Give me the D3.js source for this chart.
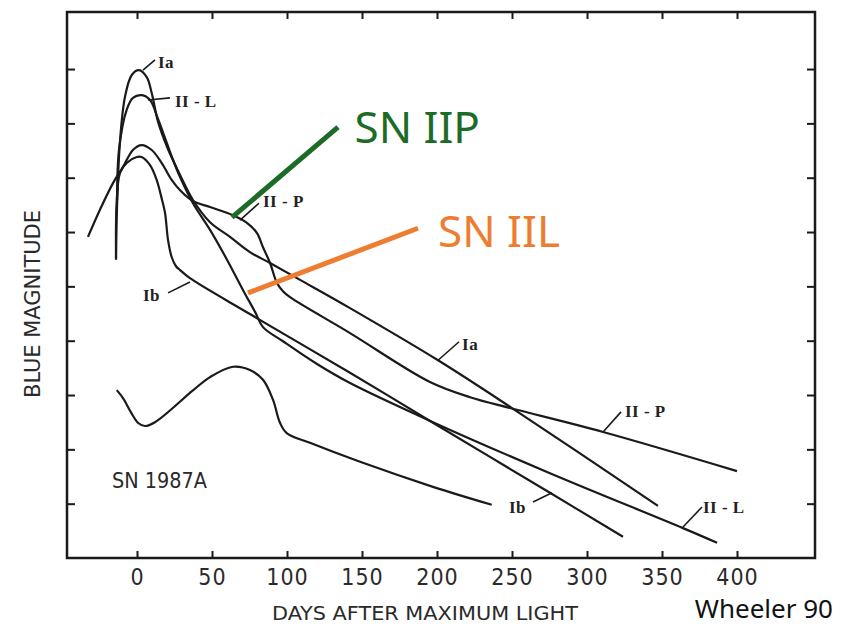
<!DOCTYPE html>
<html>
<head>
<meta charset="utf-8">
<script src="https://cdn.jsdelivr.net/npm/d3@7"></script>
<style>
  body { margin: 0; background: #ffffff; }
</style>
</head>
<body>
<div id="chart"></div>
<script>
const typeIa = [[-14, 4.51], [-13.7, 3.96], [-13.3, 3.52], [-11.3, 2.31], [-8, 1.51], [-3.5, 1.11],
  [1.3, 1.02], [6.5, 1.15], [9.8, 1.44], [14, 1.97], [20, 2.43], [28.7, 2.95], [37.3, 3.41],
  [48.7, 3.82], [62, 4.09], [75.3, 4.37], [88.7, 4.57], [108.7, 4.88], [142, 5.40],
  [200.7, 6.36], [250, 7.24], [347.3, 9.04]];

const typeIIL = [[-13.3, 3.41], [-12, 2.49], [-6.9, 1.75], [-2.7, 1.53], [3.1, 1.48], [8.7, 1.57],
  [14, 1.92], [18.7, 2.27], [23.3, 2.62], [28.7, 2.99], [37.3, 3.47], [48.7, 3.96], [60, 4.51],
  [70.7, 5.07], [78.7, 5.47], [84, 5.75], [97.3, 6.01], [120, 6.43], [142, 6.78],
  [197.3, 7.50], [275.3, 8.44], [364, 9.45], [386.7, 9.72]];

const typeIIP = [[-32.7, 4.09], [-24.7, 3.59], [-16, 3.10], [-9.3, 2.80], [-2.7, 2.49], [3.1, 2.40],
  [9.8, 2.49], [16.5, 2.73], [23.1, 3.04], [28.7, 3.23], [37.3, 3.43], [48.7, 3.54], [64, 3.69],
  [73.3, 3.83], [80, 4.02], [84, 4.28], [88.7, 4.57], [93.3, 4.94], [97.3, 5.09], [102, 5.20],
  [142, 5.86], [195.3, 6.76], [222, 7.04], [248.7, 7.24], [310.7, 7.68], [400, 8.40]];

const typeIb = [[-14, 4.48], [-13.5, 3.41], [-11.3, 2.91], [-6.9, 2.73], [-0.2, 2.62], [3.1, 2.62],
  [8.7, 2.77], [13.1, 3.04], [16.7, 3.41], [18.7, 3.65], [20.7, 4.15], [23.1, 4.46], [26, 4.63],
  [28.7, 4.70], [35.3, 4.85], [75.3, 5.51], [142, 6.59], [197.3, 7.51], [275.3, 8.80], [324, 9.61]];

const sn1987A = [[-13.5, 6.91], [-9, 7.07], [-4, 7.32], [1, 7.52], [5.3, 7.57], [12, 7.50],
  [37.5, 6.91], [48.7, 6.67], [64, 6.48], [75.3, 6.54], [84, 6.72], [90.7, 7.09], [95.3, 7.51],
  [99.8, 7.70], [115.3, 7.88], [148.7, 8.23], [197.3, 8.69], [236.5, 9.02]];

const dayTicks = [0, 50, 100, 150, 200, 250, 300, 350, 400];
const magTicks = [1, 2, 3, 4, 5, 6, 7, 8, 9];

// curve labels with their little pointer lines
const curveLabels = [
  { text: 'Ia', day: 14, mag: 0.98, from: [4, 1.02], to: [12, 0.83] },
  { text: 'II - L', day: 25.3, mag: 1.70, from: [7.3, 1.57], to: [22, 1.53] },
  { text: 'II - P', day: 84, mag: 3.54, from: [68.7, 3.78], to: [81.3, 3.47] },
  { text: 'Ib', day: 4, mag: 5.27, from: [20.7, 5.12], to: [35.3, 4.92] },
  { text: 'Ia', day: 216.7, mag: 6.17, from: [200.7, 6.36], to: [214.7, 6.02] },
  { text: 'II - P', day: 325.3, mag: 7.40, from: [310.7, 7.68], to: [322.7, 7.31] },
  { text: 'Ib', day: 248, mag: 9.17, from: [264, 8.97], to: [276.7, 8.80] },
  { text: 'II - L', day: 377.3, mag: 9.17, from: [364, 9.43], to: [376.7, 9.06] }
];

// coloured call-outs added on top of the figure
const callouts = [
  { text: 'SN IIP', color: '#1c6b26', from: [63.3, 3.73], to: [134, 2.07], tx: 145, tm: 2.37 },
  { text: 'SN IIL', color: '#ed7d31', from: [74, 5.12], to: [187.3, 3.93], tx: 200.7, tm: 4.28 }
];

const width = 841;
const height = 627;
const margin = { top: 12, right: 26, bottom: 69, left: 67 };

const svg = d3.select('#chart')
  .append('svg')
  .attr('width', width)
  .attr('height', height);

const x = d3.scaleLinear()
  .domain([-46.67, 452])
  .range([margin.left, width - margin.right]);

const y = d3.scaleLinear()
  .domain([-0.05, 10])
  .range([margin.top, height - margin.bottom]);

const ink = '#1a1a1a';
const letterFont = "'DejaVu Sans Condensed', 'Liberation Sans Narrow', 'DejaVu Sans', sans-serif";

// ticks on all four sides, pointing inward
function styleAxis(g) {
  g.select('.domain').remove();
  g.selectAll('.tick line').attr('stroke', ink).attr('stroke-width', 2);
}

svg.append('g')
  .attr('transform', 'translate(0,' + (height - margin.bottom) + ')')
  .call(d3.axisBottom(x).tickValues(dayTicks).tickSize(-7).tickPadding(11))
  .call(styleAxis)
  .call(g => g.selectAll('.tick text')
    .attr('fill', '#2a2a2a')
    .style('font-family', letterFont)
    .style('font-size', '23px')
    .style('letter-spacing', '1px'));

svg.append('g')
  .attr('transform', 'translate(0,' + margin.top + ')')
  .call(d3.axisTop(x).tickValues(dayTicks).tickSize(-7).tickFormat(''))
  .call(styleAxis);

svg.append('g')
  .attr('transform', 'translate(' + margin.left + ',0)')
  .call(d3.axisLeft(y).tickValues(magTicks).tickSize(-8).tickFormat(''))
  .call(styleAxis);

svg.append('g')
  .attr('transform', 'translate(' + (width - margin.right) + ',0)')
  .call(d3.axisRight(y).tickValues(magTicks).tickSize(-8).tickFormat(''))
  .call(styleAxis);

// frame
svg.append('rect')
  .attr('x', margin.left)
  .attr('y', margin.top)
  .attr('width', width - margin.left - margin.right)
  .attr('height', height - margin.top - margin.bottom)
  .attr('fill', 'none')
  .attr('stroke', ink)
  .attr('stroke-width', 2.5);

// curves
const line = d3.line()
  .x(d => x(d[0]))
  .y(d => y(d[1]))
  .curve(d3.curveCatmullRom.alpha(0.5));

[typeIa, typeIIL, typeIIP, typeIb, sn1987A].forEach(series => {
  svg.append('path')
    .attr('d', line(series))
    .attr('fill', 'none')
    .attr('stroke', ink)
    .attr('stroke-width', 2.2)
    .attr('stroke-linejoin', 'round');
});

// curve labels
curveLabels.forEach(l => {
  svg.append('line')
    .attr('x1', x(l.from[0])).attr('y1', y(l.from[1]))
    .attr('x2', x(l.to[0])).attr('y2', y(l.to[1]))
    .attr('stroke', ink)
    .attr('stroke-width', 1.6);
  svg.append('text')
    .text(l.text)
    .attr('x', x(l.day))
    .attr('y', y(l.mag))
    .attr('fill', '#222')
    .style('font-family', "'Liberation Serif', 'DejaVu Serif', serif")
    .style('font-weight', 'bold')
    .style('font-size', '17px')
    .style('letter-spacing', '0.5px');
});

svg.append('text')
  .text('SN 1987A')
  .attr('x', x(-16.7))
  .attr('y', y(8.71))
  .attr('textLength', 95)
  .attr('lengthAdjust', 'spacingAndGlyphs')
  .attr('fill', '#2a2a2a')
  .style('font-family', letterFont)
  .style('font-size', '21px');

// axis titles
svg.append('text')
  .text('DAYS AFTER MAXIMUM LIGHT')
  .attr('x', 272)
  .attr('y', 620)
  .attr('textLength', 306)
  .attr('lengthAdjust', 'spacingAndGlyphs')
  .attr('fill', '#2a2a2a')
  .style('font-family', letterFont)
  .style('font-size', '20px');

svg.append('text')
  .text('BLUE MAGNITUDE')
  .attr('transform', 'translate(40,398) rotate(-90)')
  .attr('textLength', 188)
  .attr('lengthAdjust', 'spacingAndGlyphs')
  .attr('fill', '#2a2a2a')
  .style('font-family', letterFont)
  .style('font-size', '21px');

// call-outs
callouts.forEach(c => {
  svg.append('line')
    .attr('x1', x(c.from[0])).attr('y1', y(c.from[1]))
    .attr('x2', x(c.to[0])).attr('y2', y(c.to[1]))
    .attr('stroke', c.color)
    .attr('stroke-width', 5);
  svg.append('text')
    .text(c.text)
    .attr('x', x(c.tx))
    .attr('y', y(c.tm))
    .attr('fill', c.color)
    .style('font-family', "'Noto Sans', 'Open Sans', sans-serif")
    .style('font-size', '44px');
});

svg.append('text')
  .text('Wheeler 90')
  .attr('x', 833)
  .attr('y', 618)
  .attr('text-anchor', 'end')
  .attr('fill', '#111')
  .style('font-family', "'Noto Sans', 'Open Sans', sans-serif")
  .style('font-size', '26px');
</script>
</body>
</html>
